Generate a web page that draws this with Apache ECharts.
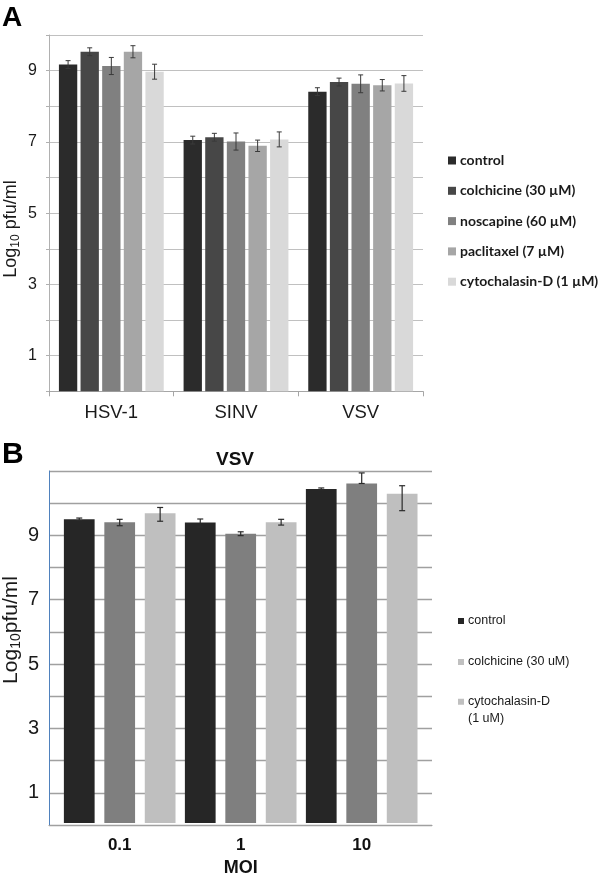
<!DOCTYPE html>
<html>
<head>
<meta charset="utf-8">
<script src="https://cdn.jsdelivr.net/npm/echarts@6/dist/echarts.min.js"></script>
<style>
html,body{margin:0;padding:0;background:#fff;}
#main{width:600px;height:878px;}
</style>
</head>
<body>
<div id="main"></div>
<script>
// ---------- Panel A data ----------
const categoriesA = ['HSV-1', 'SINV', 'VSV'];
const seriesNamesA = ['control', 'colchicine (30 µM)', 'noscapine (60 µM)', 'paclitaxel (7 µM)', 'cytochalasin-D (1 µM)'];
const controlA = [9.17, 7.05, 8.41];
const colchicineA = [9.53, 7.13, 8.68];
const noscapineA = [9.13, 7.01, 8.63];
const paclitaxelA = [9.53, 6.89, 8.59];
const cytochalasinA = [8.97, 7.07, 8.64];
const controlErrA = [0.11, 0.11, 0.11];
const colchicineErrA = [0.11, 0.11, 0.11];
const noscapineErrA = [0.24, 0.24, 0.25];
const paclitaxelErrA = [0.17, 0.16, 0.16];
const cytochalasinErrA = [0.21, 0.21, 0.22];
const yTicksA = [1, 3, 5, 7, 9];

// ---------- Panel B data ----------
const categoriesB = ['0.1', '1', '10'];
const seriesNamesB = ['control', 'colchicine (30 uM)', 'cytochalasin-D\n(1 uM)'];
const controlB = [9.49, 9.39, 10.44];
const colchicineB = [9.40, 9.04, 10.61];
const cytochalasinB = [9.68, 9.40, 10.29];
const controlErrPlusB = [0.04, 0.11, 0.03];
const controlErrMinusB = [0.04, 0.14, 0.03];
const colchicineErrPlusB = [0.09, 0.06, 0.33];
const colchicineErrMinusB = [0.11, 0.06, 0.0];
const cytochalasinErrPlusB = [0.18, 0.09, 0.25];
const cytochalasinErrMinusB = [0.25, 0.09, 0.53];
const yTicksB = [1, 3, 5, 7, 9];

// ---------- styles ----------
const colorsA = ['#2b2b2b', '#474747', '#808080', '#a6a6a6', '#d9d9d9'];
const colorsB = ['#262626', '#7f7f7f', '#bfbfbf'];
const legendColorsB = ['#262626', '#c0c0c0', '#c0c0c0'];
const barWA = 0.147, gapA = 0.18;
const barWB = 0.254, gapB = 0.316;

const valsA = [controlA, colchicineA, noscapineA, paclitaxelA, cytochalasinA];
const errsA = [controlErrA, colchicineErrA, noscapineErrA, paclitaxelErrA, cytochalasinErrA];
const valsB = [controlB, colchicineB, cytochalasinB];
const errPB = [controlErrPlusB, colchicineErrPlusB, cytochalasinErrPlusB];
const errMB = [controlErrMinusB, colchicineErrMinusB, cytochalasinErrMinusB];

function errRender(i, n, bwRatio, gapRatio, capHalf, color, lw) {
  return function (params, api) {
    const x = api.value(0), lo = api.value(2), hi = api.value(3);
    const catW = api.size([1, 0])[0];
    const bw = catW * bwRatio;
    const off = (i - (n - 1) / 2) * (bw * (1 + gapRatio));
    const pTop = api.coord([x, hi]);
    const pBot = api.coord([x, lo]);
    const cx = pTop[0] + off;
    const st = { stroke: color, lineWidth: lw };
    return {
      type: 'group',
      children: [
        { type: 'line', shape: { x1: cx, y1: pTop[1], x2: cx, y2: pBot[1] }, style: st },
        { type: 'line', shape: { x1: cx - capHalf, y1: pTop[1], x2: cx + capHalf, y2: pTop[1] }, style: st },
        { type: 'line', shape: { x1: cx - capHalf, y1: pBot[1], x2: cx + capHalf, y2: pBot[1] }, style: st }
      ]
    };
  };
}

const series = [];
seriesNamesA.forEach((name, i) => {
  series.push({
    name: name, type: 'bar', xAxisIndex: 0, yAxisIndex: 0,
    data: valsA[i], barWidth: (barWA * 100) + '%', barGap: (gapA * 100) + '%',
    itemStyle: { color: colorsA[i] }, silent: true
  });
});
seriesNamesA.forEach((name, i) => {
  series.push({
    type: 'custom', xAxisIndex: 0, yAxisIndex: 0, z: 5, silent: true,
    renderItem: errRender(i, 5, barWA, gapA, 2.5, '#3a3a3a', 1),
    data: valsA[i].map((v, k) => [k, v, v - errsA[i][k], v + errsA[i][k]])
  });
});
seriesNamesB.forEach((name, i) => {
  series.push({
    name: name, type: 'bar', xAxisIndex: 1, yAxisIndex: 1,
    data: valsB[i], barWidth: (barWB * 100) + '%', barGap: (gapB * 100) + '%',
    itemStyle: { color: colorsB[i] }, silent: true
  });
});
seriesNamesB.forEach((name, i) => {
  series.push({
    type: 'custom', xAxisIndex: 1, yAxisIndex: 1, z: 5, silent: true,
    renderItem: errRender(i, 3, barWB, gapB, 3, '#2a2a2a', 1.2),
    data: valsB[i].map((v, k) => [k, v, v - errMB[i][k], v + errPB[i][k]])
  });
});

const oddFmt = (arr) => (v) => (arr.indexOf(v) >= 0 ? String(v) : '');

const option = {
  animation: false,
  backgroundColor: '#ffffff',
  textStyle: { fontFamily: 'Liberation Sans' },
  grid: [
    { left: 49, top: 35, width: 374, height: 356.3 },
    { left: 59.2, top: 471, width: 363, height: 354 },
    { left: 49, top: 471, width: 383, height: 354 }
  ],
  xAxis: [
    {
      type: 'category', gridIndex: 0, data: categoriesA,
      axisLine: { lineStyle: { color: '#a6a6a6', width: 1 } },
      axisTick: { show: true, length: 5, interval: 0, lineStyle: { color: '#a6a6a6' } },
      axisLabel: { color: '#1a1a1a', fontSize: 18.5, margin: 12, fontFamily: 'Liberation Sans' }
    },
    {
      type: 'category', gridIndex: 1, data: categoriesB,
      axisLine: { show: false }, axisTick: { show: false },
      axisLabel: { color: '#111', fontSize: 17, fontWeight: 'bold', margin: 14, fontFamily: 'Liberation Sans' },
      name: 'MOI', nameLocation: 'middle', nameGap: 36,
      nameTextStyle: { color: '#111', fontSize: 18, fontWeight: 'bold', fontFamily: 'Liberation Sans' }
    },
    {
      type: 'value', gridIndex: 2, min: 0, max: 1,
      axisLine: { show: true, onZero: false, lineStyle: { color: '#a0a0a0', width: 1.2 } },
      axisTick: { show: false }, axisLabel: { show: false }, splitLine: { show: false }
    }
  ],
  yAxis: [
    {
      type: 'value', gridIndex: 0, min: 0, max: 10, interval: 1,
      axisLine: { show: true, lineStyle: { color: '#b0b0b0' } },
      axisTick: { show: true, length: 3, lineStyle: { color: '#b0b0b0' } },
      splitLine: { lineStyle: { color: '#c0c0c0', width: 1 } },
      axisLabel: { color: '#1a1a1a', fontSize: 16, margin: 12, formatter: oddFmt(yTicksA), fontFamily: 'Liberation Sans' }
    },
    { type: 'value', gridIndex: 1, min: 0, max: 11, interval: 1, show: false, splitLine: { show: false } },
    {
      type: 'value', gridIndex: 2, min: 0, max: 11, interval: 1,
      axisLine: { show: true, lineStyle: { color: '#4f81bd', width: 1 } },
      axisTick: { show: false },
      splitLine: { lineStyle: { color: '#a0a0a0', width: 1.3 } },
      axisLabel: { color: '#1a1a1a', fontSize: 20, margin: 10, formatter: oddFmt(yTicksB), fontFamily: 'Liberation Sans' }
    }
  ],
  legend: [
    {
      orient: 'vertical', left: 443, top: 147, itemWidth: 8, itemHeight: 8, itemGap: 13.3,
      icon: 'rect', selectedMode: false,
      data: seriesNamesA,
      textStyle: { fontFamily: 'Lato', fontWeight: 'bold', fontSize: 14, color: '#1a1a1a', lineHeight: 17, padding: [0, 0, 0, -1] }
    },
    {
      orient: 'vertical', left: 453, top: 608, itemWidth: 6, itemHeight: 6, itemGap: 25,
      icon: 'rect', selectedMode: false,
      data: [
        { name: seriesNamesB[0], itemStyle: { color: legendColorsB[0] } },
        { name: seriesNamesB[1], itemStyle: { color: legendColorsB[1] } }
      ],
      textStyle: { fontFamily: 'Liberation Sans', fontSize: 12.5, color: '#1a1a1a', lineHeight: 16, padding: [0, 0, 0, -1] }
    },
    {
      orient: 'vertical', left: 453, top: 672, itemWidth: 6, itemHeight: 6,
      icon: 'rect', selectedMode: false,
      data: [{ name: seriesNamesB[2], itemStyle: { color: legendColorsB[2] } }],
      formatter: (n) => ' \n' + n,
      textStyle: { fontFamily: 'Liberation Sans', fontSize: 12.5, color: '#1a1a1a', lineHeight: 16.5, padding: [0, 0, 0, -1] }
    }
  ],
  graphic: [
    { type: 'text', left: 2, top: 4, style: { text: 'A', font: 'bold 28px "Liberation Sans"', fill: '#000' } },
    { type: 'text', left: 2, top: 440, style: { text: 'B', font: 'bold 30px "Liberation Sans"', fill: '#000' } },
    { type: 'text', x: 235, y: 460, style: { text: 'VSV', font: 'bold 19px "Liberation Sans"', fill: '#111', align: 'center', verticalAlign: 'middle' } },
    {
      type: 'text', x: 11, y: 229, rotation: Math.PI / 2,
      style: {
        text: '{a|Log}{b|10}{a| pfu/ml}', align: 'center', verticalAlign: 'middle', fill: '#1a1a1a',
        rich: {
          a: { fontSize: 18, fontFamily: 'Liberation Sans', lineHeight: 22, fill: '#1a1a1a' },
          b: { fontSize: 12, fontFamily: 'Liberation Sans', lineHeight: 14, verticalAlign: 'bottom', fill: '#1a1a1a' }
        }
      }
    },
    {
      type: 'text', x: 11, y: 630, rotation: Math.PI / 2,
      style: {
        text: '{a|Log}{b|10}{a|pfu/ml}', align: 'center', verticalAlign: 'middle', fill: '#1a1a1a',
        rich: {
          a: { fontSize: 21, fontFamily: 'Liberation Sans', lineHeight: 24, fill: '#1a1a1a' },
          b: { fontSize: 14, fontFamily: 'Liberation Sans', lineHeight: 16, verticalAlign: 'bottom', fill: '#1a1a1a' }
        }
      }
    }
  ],
  series: series
};

const chart = echarts.init(document.getElementById('main'), null, { renderer: 'canvas' });
chart.setOption(option);
</script>
</body>
</html>
